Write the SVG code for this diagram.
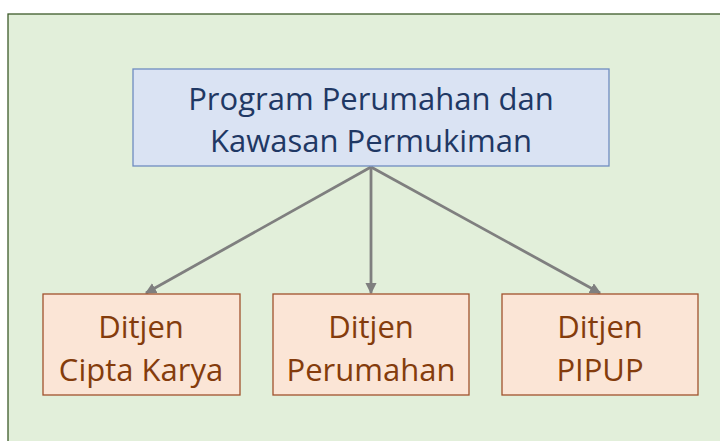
<svg xmlns="http://www.w3.org/2000/svg" width="720" height="441" viewBox="0 0 720 441">
<style>
.top{fill:#dae3f3;stroke:#6f8cc0;stroke-width:1.3}
.bot{fill:#fbe5d6;stroke:#a0522d;stroke-width:1.3}
.tt{font-family:"Open Sans","Noto Sans",sans-serif;font-size:31px;fill:#1f3864;text-anchor:middle}
.bt{font-family:"Open Sans","Noto Sans",sans-serif;font-size:31px;fill:#843c0c;text-anchor:middle}
.con{stroke:#7f7f7f;stroke-width:2.8;fill:none;marker-end:url(#ah)}
</style>
<defs>
<marker id="ah" viewBox="0 0 10 10" refX="9" refY="5" markerWidth="4" markerHeight="4" orient="auto" markerUnits="strokeWidth">
<path d="M0,0 L10,5 L0,10 z" fill="#7f7f7f"/>
</marker>
</defs>
<rect x="0" y="0" width="720" height="441" fill="#ffffff"/>
<rect x="8" y="14" width="716" height="432" fill="#e2efda" stroke="#3d5a2a" stroke-width="1.3"/>
<g id="connectors">
<line class="con" x1="371" y1="167" x2="146" y2="293"/>
<line class="con" x1="371" y1="167" x2="371" y2="293"/>
<line class="con" x1="371" y1="167" x2="600" y2="293"/>
</g>
<g id="program">
<rect class="top" x="133" y="69" width="476" height="97"/>
<text class="tt" x="371" y="110">Program Perumahan dan</text>
<text class="tt" x="371" y="152">Kawasan Permukiman</text>
</g>
<g id="ciptakarya">
<rect class="bot" x="43" y="294" width="197" height="101"/>
<text class="bt" x="141" y="338">Ditjen</text>
<text class="bt" x="141" y="381">Cipta Karya</text>
</g>
<g id="perumahan">
<rect class="bot" x="273" y="294" width="196" height="101"/>
<text class="bt" x="371" y="338">Ditjen</text>
<text class="bt" x="371" y="381">Perumahan</text>
</g>
<g id="pipup">
<rect class="bot" x="502" y="294" width="196" height="101"/>
<text class="bt" x="600" y="338">Ditjen</text>
<text class="bt" x="600" y="381">PIPUP</text>
</g>
</svg>
